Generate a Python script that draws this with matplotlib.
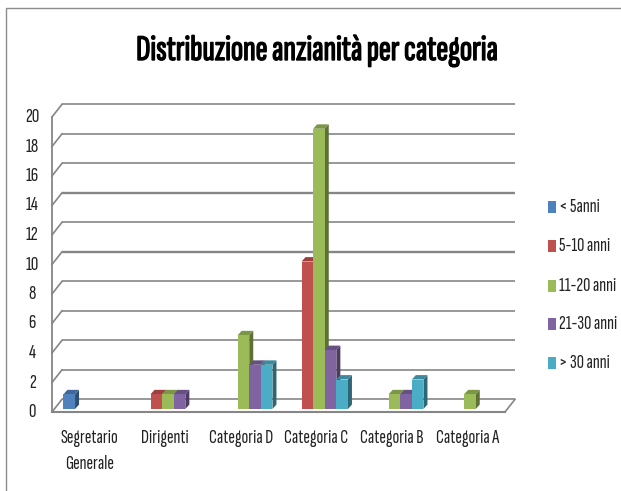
import matplotlib
matplotlib.use("Agg")
import matplotlib.pyplot as plt
import matplotlib.patheffects as path_effects
import matplotlib.transforms as mtransforms
from matplotlib.patches import Polygon, Rectangle

categories = ["Segretario\nGenerale", "Dirigenti", "Categoria D", "Categoria C", "Categoria B", "Categoria A"]
series_labels = ["< 5anni", "5-10 anni", "11-20 anni", "21-30 anni", "> 30 anni"]
lt5 = [1, 0, 0, 0, 0, 0]
y5_10 = [0, 1, 0, 10, 0, 0]
y11_20 = [0, 1, 5, 19, 1, 1]
y21_30 = [0, 1, 3, 4, 1, 0]
gt30 = [0, 0, 3, 2, 2, 0]
y_ticks = list(range(0, 21, 2))

front = ["#4F81BD", "#C0504D", "#9BBB59", "#8064A2", "#4BACC6"]
top = ["#3F6797", "#9A403E", "#7C9647", "#665082", "#3C8A9E"]
side = ["#2F4D71", "#73302E", "#5D7035", "#4C3C61", "#2D6776"]
GRID = "#868686"
NARROW = ["Sofia Sans Extra Condensed", "Fira Sans Extra Condensed", "Liberation Sans"]

W, H = 621, 491
fig = plt.figure(figsize=(W / 100, H / 100), dpi=100)
# front plane of the fake 3d box, in pixels
ax = fig.add_axes([52 / W, 1 - 412 / H, (505 - 52) / W, (412 - 117) / H])
ax.set_xlim(0, 6)
ax.set_ylim(0, 20)
ax.axis("off")


def offset(dx, dy):
    return ax.transData + mtransforms.Affine2D().translate(dx, dy)


# depth of the box
DX, DY = 10, 12.7
back = offset(DX, DY)
for t in y_ticks:
    lw = 1.7 if t in (10, 14) else 1.2
    ax.plot([0, 6], [t, t], color=GRID, lw=lw, transform=back, clip_on=False, zorder=1,
            solid_capstyle="butt")
    p0 = ax.transData.transform((0, t))
    fig.add_artist(plt.Line2D([p0[0], p0[0] + DX], [p0[1], p0[1] + DY], color=GRID, lw=1.2,
                              transform=None, zorder=1))
ax.plot([0, 0], [0, 20], color=GRID, lw=1.3, clip_on=False, zorder=2)
ax.plot([0, 6], [0, 0], color=GRID, lw=1.5, clip_on=False, zorder=2)
p1 = ax.transData.transform((6, 0))
fig.add_artist(plt.Line2D([p1[0], p1[0] + DX], [p1[1], p1[1] + DY], color=GRID, lw=1.2,
                          transform=None, zorder=1))

# bars, front face plus top and side faces
values = [lt5, y5_10, y11_20, y21_30, gt30]
px_per_cat = (505 - 52) / 6
px_per_unit = (412 - 117) / 20
bw = 11.6 / px_per_cat
start = -2.5 * bw + 2.7 / px_per_cat
ux = 4 / px_per_cat
uy = 4.4 / px_per_unit
base_tr = offset(0, 3)
for s, vals in enumerate(values):
    for c, v in enumerate(vals):
        if v == 0:
            continue
        x0 = c + 0.5 + start + s * bw
        x1 = x0 + bw
        ax.add_patch(Polygon([(x1, 0), (x1 + ux, uy), (x1 + ux, v + uy), (x1, v)], fc=side[s], ec="none",
                             transform=base_tr, clip_on=False, zorder=3 + s))
        ax.add_patch(Polygon([(x0, v), (x0 + ux, v + uy), (x1 + ux, v + uy), (x1, v)], fc=top[s], ec="none",
                             transform=base_tr, clip_on=False, zorder=3 + s))
        ax.add_patch(Rectangle((x0, 0), bw, v, fc=front[s], ec="none", transform=base_tr,
                               clip_on=False, zorder=3 + s))

for t in y_ticks:
    ax.text(-0.26, t, str(t), ha="center", va="center", fontsize=15, family=NARROW, color="#222222")
for c, name in enumerate(categories):
    ax.text(c + 0.5, -1.15, name, ha="center", va="top", fontsize=14.5, family=NARROW,
            color="#222222", linespacing=1.6)

# legend by hand, the reference has no frame and wide gaps
leg_y = [207, 246, 286, 324, 363]
for y, lab, col in zip(leg_y, series_labels, front):
    fig.add_artist(Rectangle((548 / W, 1 - (y + 6) / H), 8 / W, 12 / H, fc=col, ec="none",
                             transform=fig.transFigure))
    fig.text(559 / W, 1 - y / H, lab, ha="left", va="center", fontsize=14.5, family=NARROW, color="#222222")

# the font has no bold cut that loads, a thin stroke thickens it
title = fig.text(317 / W, 1 - 51 / H, "Distribuzione anzianità per categoria", ha="center", va="center",
                 fontsize=26, family=NARROW, color="black")
title.set_path_effects([path_effects.withStroke(linewidth=1.0, foreground="black")])

# outer frame of the pasted chart
fig.add_artist(plt.Line2D([5.5 / W, 5.5 / W, 1], [0, 1 - 7.5 / H, 1 - 7.5 / H], color="#8C8C8C", lw=1))

fig.savefig("out.png", dpi=100)
